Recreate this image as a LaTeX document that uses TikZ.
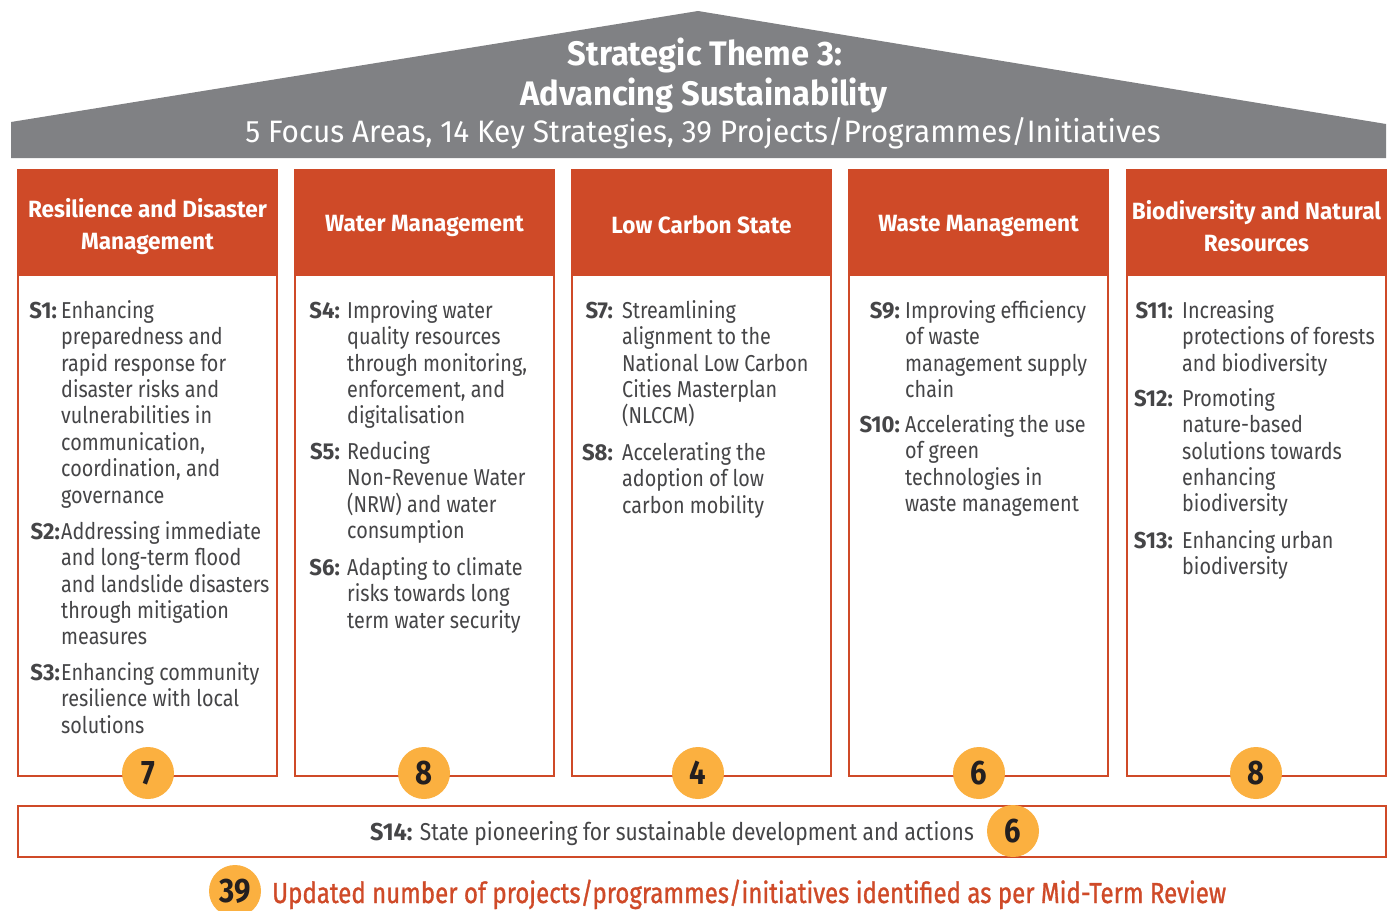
\documentclass[tikz,border=0pt]{standalone}
\usepackage{fontspec}
\setmainfont[FakeStretch=0.86]{Fira Sans}
\newfontfamily\widefont[FakeStretch=0.96]{Fira Sans}
\newfontfamily\footfont[FakeStretch=0.83,FakeBold=1]{Fira Sans}
\definecolor{brick}{HTML}{CF4A28}
\definecolor{roofgray}{HTML}{808184}
\definecolor{gold}{HTML}{FBB040}
\definecolor{txtgray}{HTML}{454547}
\definecolor{numdark}{HTML}{231F20}
\newcommand\bodysize{\fontsize{23}{26.4}\selectfont}
\newcommand\strat[6]{%
  \node[lbl, anchor=base east] (#1l) at (#3, #5) {#2};
  \node[body, anchor=north west] (#1) at (#4, #5-18.48) {\strut #6};
}
\begin{document}
\begin{tikzpicture}[x=1pt,y=-1pt,
  lbl/.style={inner sep=0pt, text=txtgray, font=\widefont\bodysize\bfseries},
  body/.style={inner sep=0pt, text=txtgray, font=\bodysize, align=left},
  headtxt/.style={inner sep=0pt, text=white, font=\widefont\fontsize{23.5}{32}\selectfont\bfseries, align=center},
  numc/.style={circle, fill=gold, minimum size=52pt, inner sep=0pt, text=numdark, font=\fontsize{34}{34}\selectfont\bfseries},
  pillar/.style={draw=brick, line width=1.8pt},
  pillarhead/.style={fill=brick},
  titletxt/.style={inner sep=0pt, text=white, font=\widefont\fontsize{34}{40}\selectfont\bfseries},
  subtxt/.style={inner sep=0pt, text=white, font=\widefont\fontsize{31}{34}\selectfont}
]
\useasboundingbox (0,0) rectangle (1389,910);
\fill[white] (0,0) rectangle (1389,910);

% roof
\fill[roofgray] (11,158) -- (11,122) -- (698,11) -- (1386,124) -- (1386,158) -- cycle;
\node[titletxt, anchor=base] (t1) at (705,65) {Strategic Theme 3:};
\node[titletxt, anchor=base] (t2) at (704,105) {Advancing Sustainability};
\node[subtxt, anchor=base] (t3) at (703,142) {5 Focus Areas, 14 Key Strategies, 39 Projects/Programmes/Initiatives};

% pillars
\foreach \xa/\xb in {18/277, 295/554, 572/831, 849/1108, 1127/1386}{
  \draw[pillar] (\xa,170) rectangle (\xb,776);
  \fill[pillarhead] (\xa-0.9,169.1) rectangle (\xb+0.9,276);
}
\node[headtxt] (h1) at (147.5,227) {Resilience and Disaster\\Management};
\node[headtxt] (h2) at (424.5,226) {Water Management};
\node[headtxt] (h3) at (701.5,225) {Low Carbon State};
\node[headtxt] (h4) at (978.5,226) {Waste Management};
\node[headtxt] (h5) at (1256.5,226) {Biodiversity and Natural\\Resources};

% column 1
\strat{s1}{S1:}{57}{61}{318}{Enhancing\\preparedness and\\rapid response for\\disaster risks and\\vulnerabilities in\\communication,\\coordination, and\\governance}
\strat{s2}{S2:}{60}{61}{539}{Addressing immediate\\and long-term flood\\and landslide disasters\\through mitigation\\measures}
\strat{s3}{S3:}{60}{61}{680}{Enhancing community\\resilience with local\\solutions}

% column 2
\strat{s4}{S4:}{340}{347}{318}{Improving water\\quality resources\\through monitoring,\\enforcement, and\\digitalisation}
\strat{s5}{S5:}{340}{347}{459}{Reducing\\Non-Revenue Water\\(NRW) and water\\consumption}
\strat{s6}{S6:}{340}{347}{575}{Adapting to climate\\risks towards long\\term water security}

% column 3
\strat{s7}{S7:}{613}{622}{318}{Streamlining\\alignment to the\\National Low Carbon\\Cities Masterplan\\(NLCCM)}
\strat{s8}{S8:}{613}{622}{460}{Accelerating the\\adoption of low\\carbon mobility}

% column 4
\strat{s9}{S9:}{900}{905}{318}{Improving efficiency\\of waste\\management supply\\chain}
\strat{s10}{S10:}{900}{905}{432}{Accelerating the use\\of green\\technologies in\\waste management}

% column 5
\strat{s11}{S11:}{1173}{1182}{318}{Increasing\\protections of forests\\and biodiversity}
\strat{s12}{S12:}{1173}{1182}{406}{Promoting\\nature-based\\solutions towards\\enhancing\\biodiversity}
\strat{s13}{S13:}{1173}{1182}{548}{Enhancing urban\\biodiversity}

% counts
\node[numc] (n1) at (148,773) {7};
\node[numc] (n2) at (424,773) {8};
\node[numc] (n3) at (698,773) {4};
\node[numc] (n4) at (979,773) {6};
\node[numc] (n5) at (1256,773) {8};

% S14 bar
\draw[pillar] (18,806) rectangle (1386,857);
\node[body, anchor=base west, font=\fontsize{24.4}{28}\selectfont] (s14) at (370,840) {{\widefont\bfseries S14:} State pioneering for sustainable development and actions};
\node[numc] (n14) at (1013,831) {6};

% footer
\node[numc] (n39) at (235,891) {39};
\node[inner sep=0pt, anchor=base west, text=brick, font=\footfont\fontsize{29}{34}\selectfont] (foot) at (272,903) {Updated number of projects/programmes/initiatives identified as per Mid-Term Review};
\end{tikzpicture}
\end{document}
